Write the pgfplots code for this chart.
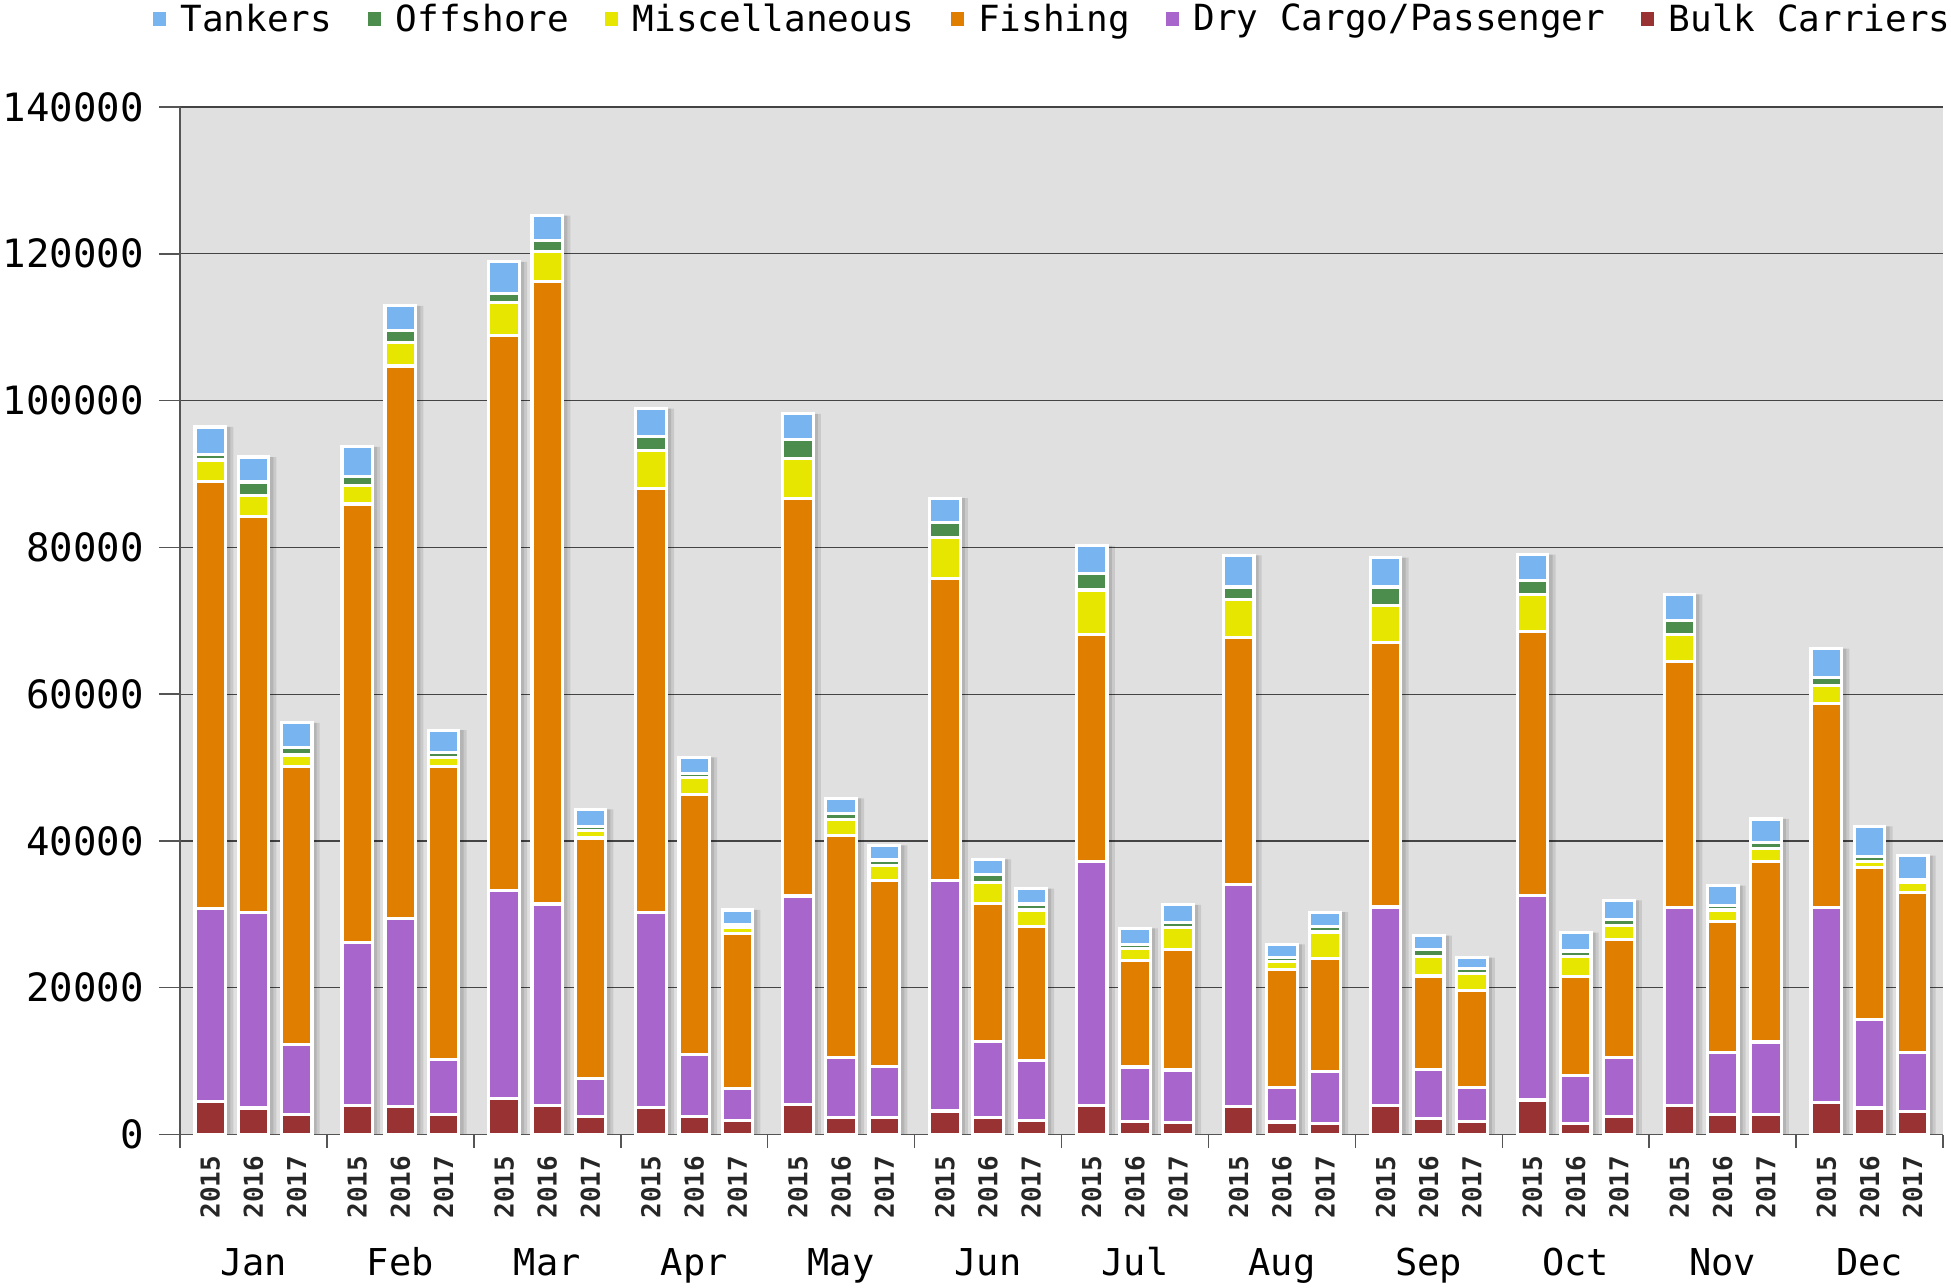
\documentclass[border=0pt]{standalone}
\usepackage{fontspec}
\setmainfont{DejaVu Sans Mono}
\newfontfamily\cf{DejaVu Sans Mono}
\usepackage{pgfplots}
\usepackage{pgfplotstable}
\pgfplotsset{compat=1.18}
\definecolor{tankcol}{HTML}{78B4F0}
\definecolor{offcol}{HTML}{4C8C4C}
\definecolor{misccol}{HTML}{E6E600}
\definecolor{fishcol}{HTML}{E07E00}
\definecolor{drycol}{HTML}{A866CC}
\definecolor{bulkcol}{HTML}{993333}
\definecolor{bggray}{HTML}{E0E0E0}
\definecolor{gridcol}{HTML}{444444}
\definecolor{axiscol}{HTML}{555555}
\pgfplotstableread{
x bulk dry fish misc off tank
-0.294 4500 26300 58200 2900 700 3800
0 3600 26600 54000 2900 1800 3400
0.294 2700 9600 37800 1600 1000 3400
0.706 4000 22200 59700 2500 1200 4100
1 3800 25600 75300 3200 1600 3400
1.294 2700 7500 39900 1300 700 3000
1.706 4900 28300 75700 4500 1200 4300
2 4000 27400 84800 4100 1500 3400
2.294 2400 5200 32800 1000 600 2300
2.706 3700 26600 57700 5200 1900 3800
3 2400 8500 35400 2300 600 2200
3.294 1900 4400 21100 800 400 2000
3.706 4100 28400 54200 5400 2600 3500
4 2300 8200 30200 2200 800 2100
4.294 2300 7000 25300 2000 800 2000
4.706 3200 31400 41200 5500 2100 3300
5 2300 10400 18800 2800 1100 2100
5.294 1900 8200 18200 2300 800 2100
5.706 3900 33300 30900 6100 2200 3800
6 1800 7400 14500 1600 600 2200
6.294 1600 7200 16400 3000 700 2400
6.706 3800 30300 33600 5200 1700 4300
7 1700 4700 16100 1100 500 1800
7.294 1500 7100 15400 3600 700 2000
7.706 4000 27000 36000 5100 2500 4000
8 2200 6700 12700 2600 1000 1900
8.294 1800 4600 13200 2300 700 1500
8.706 4700 27900 35900 5100 1900 3500
9 1500 6500 13500 2800 700 2500
9.294 2500 8000 16100 1900 800 2600
9.706 4000 26900 33600 3600 1900 3600
10 2700 8500 17800 1600 600 2700
10.294 2700 9900 24600 1800 800 3200
10.706 4400 26500 27800 2500 1100 3900
11 3600 12100 20700 800 700 4100
11.294 3100 8100 21800 1300 400 3300
}\datatable
\pgfplotsset{common/.style={
  at={(0pt,0pt)}, anchor=south west,
  scale only axis, width=881.5pt, height=513.75pt,
  xmin=-0.5, xmax=11.5, ymin=0, ymax=140000,
  scaled y ticks=false,
  ytick={0,20000,40000,60000,80000,100000,120000,140000},
}}
\begin{document}
\begin{tikzpicture}
\useasboundingbox (-90pt,-76.25pt) rectangle (885.5pt,567.25pt);
% background, grid and soft shadows
\begin{axis}[common,
  axis background/.style={fill=bggray},
  axis line style={draw=none}, tick style={draw=none},
  yticklabels={}, xtick=\empty,
  ymajorgrids, grid style={line width=0.6pt, draw=gridcol},
  ybar, bar width=17pt,
]
\addplot[fill=black, draw=none, opacity=0.10, bar shift=3pt]
  table[x=x, y expr=\thisrow{bulk}+\thisrow{dry}+\thisrow{fish}+\thisrow{misc}+\thisrow{off}+\thisrow{tank}]{\datatable};
\addplot[fill=black, draw=none, opacity=0.10, bar shift=1.5pt]
  table[x=x, y expr=\thisrow{bulk}+\thisrow{dry}+\thisrow{fish}+\thisrow{misc}+\thisrow{off}+\thisrow{tank}]{\datatable};
\end{axis}
\begin{axis}[common,
  ybar stacked, bar width=0.208,
  axis x line*=bottom, axis y line*=left,
  axis line style={-, draw=axiscol, line width=0.75pt},
  yticklabels={0,20000,40000,60000,80000,100000,120000,140000},
  yticklabel style={font=\cf\fontsize{19.5}{21}\selectfont, inner sep=0pt, text=black, xshift=-7.5pt},
  tick align=outside, major tick length=10.5pt,
  ytick style={draw=axiscol, line width=0.75pt},
  xtick=data,
  xticklabels={2015,2016,2017,2015,2016,2017,2015,2016,2017,2015,2016,2017,2015,2016,2017,2015,2016,2017,2015,2016,2017,2015,2016,2017,2015,2016,2017,2015,2016,2017,2015,2016,2017,2015,2016,2017},
  xtick style={draw=none},
  xticklabel style={rotate=90, anchor=east, inner sep=0pt, font=\cf\bfseries\fontsize{13}{14}\selectfont, text=black!85},
  extra x ticks={-0.5,0.5,1.5,2.5,3.5,4.5,5.5,6.5,7.5,8.5,9.5,10.5,11.5},
  extra x tick labels={},
  extra x tick style={/pgfplots/every x tick/.style={draw=axiscol, line width=0.75pt}, /pgfplots/major tick length=6.5pt},
  legend columns=-1, reverse legend,
  legend image code/.code={\fill[#1, draw=none] (0pt,-3.5pt) rectangle (6.5pt,3.5pt); \path (13pt,0pt);},
  legend style={at={(1,1)}, anchor=east, xshift=7pt, yshift=44pt, draw=none, fill=none,
     font=\cf\fontsize{18}{20}\selectfont, nodes={inner sep=0pt},
     /tikz/every even column/.append style={column sep=18pt}},
  clip=false,
]
\addplot[fill=bulkcol, draw=white, line width=1.6pt] table[x=x,y=bulk]{\datatable};
\addplot[fill=drycol, draw=white, line width=1.6pt] table[x=x,y=dry]{\datatable};
\addplot[fill=fishcol, draw=white, line width=1.6pt] table[x=x,y=fish]{\datatable};
\addplot[fill=misccol, draw=white, line width=1.6pt] table[x=x,y=misc]{\datatable};
\addplot[fill=offcol, draw=white, line width=1.6pt] table[x=x,y=off]{\datatable};
\addplot[fill=tankcol, draw=white, line width=1.6pt] table[x=x,y=tank]{\datatable};
\legend{Bulk Carriers,Dry Cargo/Passenger,Fishing,Miscellaneous,Offshore,Tankers}
\foreach \m [count=\i from 0] in {Jan,Feb,Mar,Apr,May,Jun,Jul,Aug,Sep,Oct,Nov,Dec}{
  \edef\tmp{\noexpand\node[anchor=base, font=\noexpand\cf\noexpand\fontsize{18.5}{20}\noexpand\selectfont, inner sep=0pt] at (axis cs:\i,0) [yshift=-70.25pt] {\m};}
  \tmp
}
\end{axis}
\end{tikzpicture}
\end{document}
